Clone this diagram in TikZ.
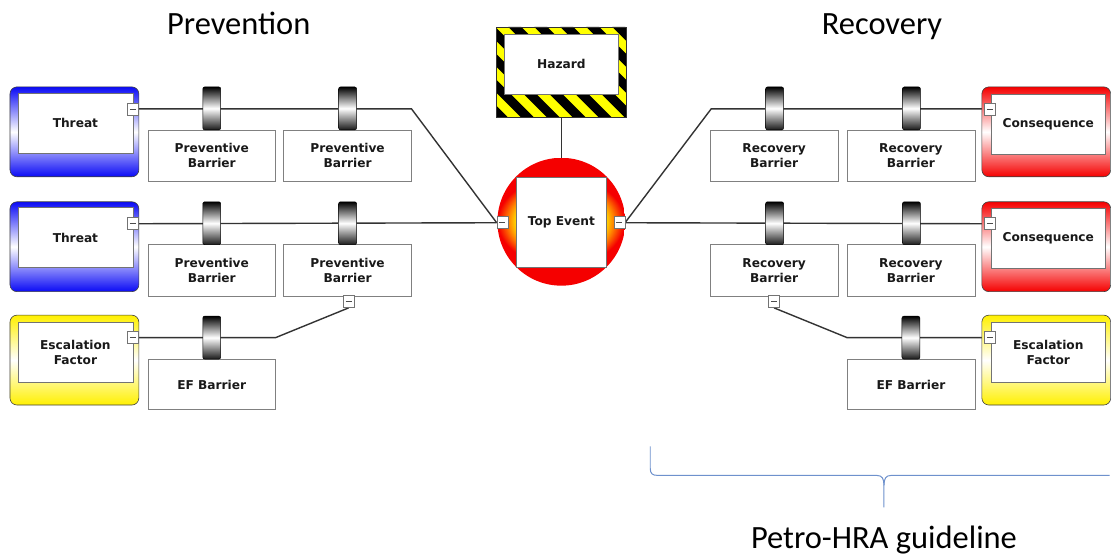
\documentclass[tikz,border=0pt]{standalone}
\usepackage{fontspec}
\setmainfont{DejaVu Sans}
\newfontfamily\titlefont{Carlito}
\usetikzlibrary{calc}
\pgfdeclarelayer{bg}
\pgfsetlayers{bg,main}
\definecolor{bblue}{RGB}{10,10,245}
\definecolor{cred}{RGB}{245,0,0}
\definecolor{cyel}{RGB}{255,240,0}
\definecolor{hzyel}{RGB}{255,255,0}
\definecolor{bracecol}{RGB}{110,145,205}
\newcommand\bowtiefont{\bfseries\fontsize{12.2}{15}\selectfont}
\tikzset{
  outerbox/.style={draw=black!75, line width=0.6pt, rounded corners=7pt,
    minimum width=129pt, minimum height=90pt, inner sep=0pt},
  threatbox/.style={outerbox, top color=bblue, bottom color=bblue, middle color=white},
  consbox/.style={outerbox, top color=cred, bottom color=cred, middle color=white},
  escbox/.style={outerbox, top color=cyel, bottom color=cyel, middle color=white},
  inbox/.style={draw=black!55, fill=white, line width=0.6pt, minimum width=115pt,
    minimum height=60pt, align=center, font=\bowtiefont, text=black!90, inner sep=0pt},
  barrierbox/.style={draw=black!50, fill=white, line width=0.6pt, minimum width=128pt,
    minimum height=52pt, align=center, font=\bowtiefont, text=black!90, inner sep=0pt},
  cyl/.style={draw=black, line width=0.5pt, rounded corners=2pt, minimum width=18pt,
    minimum height=43pt, inner sep=0pt, top color=black, bottom color=black!90, middle color=white},
  minusbox/.style={draw=black!55, fill=white, line width=0.5pt, minimum width=11pt,
    minimum height=12pt, inner sep=0pt,
    path picture={\draw[black!70, line width=0.6pt]
      ([xshift=-3pt]path picture bounding box.center) --
      ([xshift=3pt]path picture bounding box.center);}},
  conn/.style={draw=black!80, line width=1.4pt},
  title/.style={font=\titlefont\fontsize{32.5}{38}\selectfont, text=black, inner sep=0pt, anchor=base}
}
\begin{document}
\begin{tikzpicture}[x=1pt,y=-1pt]
\begin{pgfonlayer}{bg}
\path[use as bounding box, fill=white] (0,0) rectangle (1111,556);
\end{pgfonlayer}

% section titles
\node[title] (prev) at (239,35) {Prevention};
\node[title] (reco) at (883,35) {Recovery};
\node[title] (petro) at (885,549) {Petro-HRA guideline};

% threats (left)
\node[threatbox] (thr1) at (74.5,132) {};
\node[inbox] (thr1in) at (75.5,123) {Threat};
\node[minusbox] (thr1m) at (133,109) {};
\node[threatbox] (thr2) at (74.5,247) {};
\node[inbox] (thr2in) at (75.5,238) {Threat};
\node[minusbox] (thr2m) at (133,224) {};
\node[escbox] (escl) at (74.5,360.5) {};
\node[inbox] (esclin) at (75.5,353) {Escalation\\Factor};
\node[minusbox] (esclm) at (133,338) {};

% consequences (right)
\node[consbox] (con1) at (1047.5,132) {};
\node[inbox] (con1in) at (1049.5,124) {Consequence};
\node[minusbox] (con1m) at (991,109) {};
\node[consbox] (con2) at (1047.5,247) {};
\node[inbox] (con2in) at (1049.5,239) {Consequence};
\node[minusbox] (con2m) at (991,224) {};
\node[escbox] (escr) at (1047.5,360.5) {};
\node[inbox] (escrin) at (1049.5,353) {Escalation\\Factor};
\node[minusbox] (escrm) at (991,338) {};

% preventive barriers
\node[barrierbox] (pb11) at (212,156) {Preventive\\Barrier};
\node[barrierbox] (pb12) at (348,156) {Preventive\\Barrier};
\node[barrierbox] (pb21) at (212,270.5) {Preventive\\Barrier};
\node[barrierbox] (pb22) at (348,270.5) {Preventive\\Barrier};
\node[minusbox] (pb22m) at (349,302) {};
\node[barrierbox, minimum height=50pt] (efl) at (212,385) {EF Barrier};

% recovery barriers
\node[barrierbox] (rb11) at (775,156) {Recovery\\Barrier};
\node[barrierbox] (rb12) at (912,156) {Recovery\\Barrier};
\node[barrierbox] (rb21) at (775,270.5) {Recovery\\Barrier};
\node[barrierbox] (rb22) at (912,270.5) {Recovery\\Barrier};
\node[minusbox] (rb21m) at (775,302) {};
\node[barrierbox, minimum height=50pt] (efr) at (912,385) {EF Barrier};

% barrier cylinders sitting on the lines
\node[cyl] (c11) at (212,108.5) {};
\node[cyl] (c12) at (348,108.5) {};
\node[cyl] (c21) at (212,223.5) {};
\node[cyl] (c22) at (348,223.5) {};
\node[cyl] (c31) at (212,338) {};
\node[cyl] (c41) at (775.5,108.5) {};
\node[cyl] (c42) at (912.5,108.5) {};
\node[cyl] (c51) at (775.5,223.5) {};
\node[cyl] (c52) at (912.5,223.5) {};
\node[cyl] (c61) at (912,338) {};

% hazard with striped frame (path picture coordinates are relative to the node centre)
\node[minimum width=130pt, minimum height=90pt, inner sep=0pt, draw=black!80, line width=0.6pt,
  path picture={
    \fill[hzyel] (path picture bounding box.south west) rectangle (path picture bounding box.north east);
    \foreach \i in {0,...,10}{
      \fill[black] (-157+\i*26,-45) -- ++(13,0) -- ++(90,90) -- ++(-13,0) -- cycle;}
  }] (haz) at (562,72) {};
\node[inbox, minimum width=114pt] (hazin) at (562,64) {Hazard};

% top event: red disc with an orange glow built from nested ellipses
\node[circle, minimum size=128pt, inner sep=0pt,
  path picture={
    \fill[cred] (path picture bounding box.south west) rectangle (path picture bounding box.north east);
    \foreach \k in {0,...,16}{
      \pgfmathsetmacro\f{0.94-0.01*\k}
      \pgfmathsetmacro\p{100*(16-\k)/16}
      \pgfmathsetmacro\rx{68*\f}
      \pgfmathsetmacro\ry{48*\f}
      \fill[cred!\p!orange] (0,0) ellipse [x radius=\rx pt, y radius=\ry pt];}
    \foreach \k in {1,...,16}{
      \pgfmathsetmacro\f{0.78-0.01*\k}
      \pgfmathsetmacro\p{100*(16-\k)/16}
      \pgfmathsetmacro\rx{68*\f}
      \pgfmathsetmacro\ry{48*\f}
      \fill[orange!\p!yellow] (0,0) ellipse [x radius=\rx pt, y radius=\ry pt];}
  }] (te) at (562,222) {};
\node[inbox, minimum width=90pt, minimum height=90pt] (tein) at (562,223) {Top Event};
\node[minusbox] (tel) at (503,223) {};
\node[minusbox] (ter) at (620,223) {};

% bend points of the connectors
\coordinate (k1) at (412,109);
\coordinate (k2) at (276,338);
\coordinate (k3) at (712,109);
\coordinate (k4) at (848,338);

\begin{pgfonlayer}{bg}
\draw[conn] (thr1m.east) -- (k1) -- (tel.west);
\draw[conn] (thr2m.east) -- (tel.west);
\draw[conn] (esclm.east) -- (k2) -- (pb22m.south);
\draw[conn] (haz.south) -- (te.north);
\draw[conn] (ter.east) -- (k3) -- (con1m.west);
\draw[conn] (ter.east) -- (con2m.west);
\draw[conn] (rb21m.south) -- (k4) -- (escrm.west);
\end{pgfonlayer}

% brace under the recovery side
\draw[bracecol, line width=1pt] (651,447) -- (651,469)
  .. controls (651,474) and (653,476) .. (659,476) -- (878,476)
  .. controls (883,476) and (885,479) .. (885,486) -- (885,508);
\draw[bracecol, line width=1pt] (885,486)
  .. controls (885,479) and (887,476) .. (892,476) -- (1111,476);
\end{tikzpicture}
\end{document}
